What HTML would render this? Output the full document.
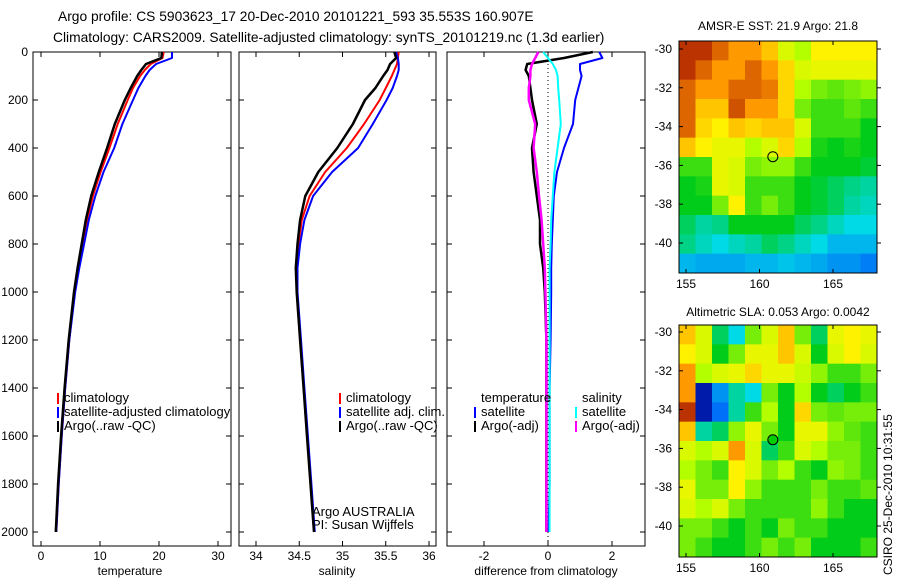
<!DOCTYPE html>
<html><head><meta charset="utf-8"><style>
body{margin:0;background:#fff;}
svg{display:block;font-family:"Liberation Sans",sans-serif;}
text{font-size:12px;fill:#000;}
text.lg{font-size:13px;}
</style></head><body>
<svg id="c" width="900" height="580" viewBox="0 0 900 580">
<text x="58" y="21" style="font-size:13.8px">Argo profile: CS 5903623_17 20-Dec-2010 20101221_593 35.553S 160.907E</text>
<text x="53" y="42" style="font-size:13.8px">Climatology: CARS2009. Satellite-adjusted climatology: synTS_20101219.nc (1.3d earlier)</text>
<text x="778" y="30" text-anchor="middle">AMSR-E SST: 21.9 Argo: 21.8</text>
<text x="778" y="316" text-anchor="middle">Altimetric SLA: 0.053 Argo: 0.0042</text>
<text transform="translate(892,575) rotate(-90)">CSIRO 25-Dec-2010 10:31:55</text>
</svg>
<script>
const depths=[0,25,50,75,100,150,200,300,400,500,600,700,800,900,1000,1200,1400,1600,1800,2000];
const argoT=[20.5,20.4,17.8,17.0,16.3,15.2,14.2,12.5,11.2,9.8,8.5,7.6,6.9,6.2,5.6,4.7,4.0,3.4,2.9,2.5];
const climT=[20.8,20.6,18.6,17.6,16.8,15.6,14.7,13.0,11.6,10.1,8.8,7.8,7.0,6.3,5.7,4.8,4.1,3.5,3.0,2.6];
const satT=[22.2,22.2,19.5,18.4,17.7,16.5,15.6,13.8,12.4,10.6,9.2,8.1,7.3,6.5,5.8,4.8,4.1,3.5,3.0,2.6];
const argoS=[35.6,35.62,35.55,35.52,35.47,35.38,35.26,35.12,34.94,34.72,34.57,34.51,34.48,34.46,34.47,34.51,34.55,34.59,34.63,34.67];
const climS=[35.65,35.64,35.63,35.6,35.57,35.5,35.43,35.25,35.05,34.8,34.62,34.53,34.49,34.47,34.47,34.51,34.55,34.59,34.63,34.67];
const satS=[35.62,35.64,35.65,35.65,35.63,35.58,35.51,35.35,35.18,34.88,34.66,34.56,34.51,34.48,34.48,34.52,34.56,34.6,34.64,34.68];
const dTsat=[1.6,1.7,1.0,1.0,1.05,0.95,0.85,0.78,0.5,0.28,0.18,0.15,0.12,0.1,0.1,0.08,0.05,0.05,0.05,0.02];
const dTargo=[1.4,0.5,-0.65,-0.7,-0.6,-0.55,-0.5,-0.35,-0.5,-0.45,-0.35,-0.25,-0.25,-0.15,-0.1,-0.05,-0.05,-0.05,-0.05,-0.05];
const dSargo=[-0.3,-0.4,-0.5,-0.55,-0.55,-0.6,-0.6,-0.4,-0.45,-0.35,-0.28,-0.2,-0.15,-0.1,-0.08,-0.05,-0.05,-0.05,-0.05,-0.05];
const dSsat=[-0.15,0.0,0.15,0.25,0.3,0.32,0.35,0.4,0.3,0.2,0.15,0.1,0.08,0.05,0.05,0.05,0.05,0.05,0.05,0.05];
const depthTicks=[0,200,400,600,800,1000,1200,1400,1600,1800,2000];
const tTicks=[0,10,20,30];
const sTicks=[34,34.5,35,35.5,36];
const sTickLabels=["34","34.5","35","35.5","36"];
const dTicks=[-2,0,2];
const lonTicks=[155,160,165];
const latTicks=[-30,-32,-34,-36,-38,-40];
const sstGrid=[
[.95,.95,.9,.85,.85,.8,.7,.65,.75,.75,.75,.75],
[.95,.9,.85,.85,.9,.85,.78,.7,.72,.72,.72,.72],
[.9,.85,.85,.9,.9,.88,.78,.65,.6,.58,.6,.62],
[.9,.8,.8,.92,.85,.85,.78,.6,.55,.55,.58,.55],
[.9,.78,.75,.8,.78,.8,.8,.7,.55,.55,.55,.5],
[.8,.75,.72,.72,.65,.7,.78,.65,.52,.5,.52,.5],
[.55,.55,.72,.7,.6,.62,.62,.55,.5,.5,.5,.48],
[.5,.52,.72,.7,.55,.55,.55,.5,.48,.45,.42,.4],
[.5,.5,.6,.75,.55,.6,.55,.5,.48,.45,.4,.38],
[.45,.4,.42,.5,.5,.5,.5,.45,.42,.38,.35,.35],
[.42,.38,.35,.38,.4,.45,.42,.38,.35,.3,.3,.3],
[.3,.28,.28,.28,.3,.3,.32,.3,.28,.25,.25,.22]];
const slaGrid=[
[.8,.7,.45,.35,.6,.7,.8,.6,.45,.72,.75,.72],
[.75,.7,.5,.6,.72,.72,.8,.7,.5,.7,.75,.7],
[.85,.65,.7,.72,.78,.72,.72,.68,.62,.55,.55,.6],
[.85,.05,.25,.4,.35,.6,.5,.65,.5,.45,.5,.55],
[.95,.05,.2,.4,.55,.65,.5,.78,.6,.58,.6,.6],
[.8,.4,.45,.62,.72,.6,.5,.72,.72,.62,.58,.55],
[.7,.65,.7,.85,.7,.45,.55,.7,.65,.6,.6,.55],
[.65,.6,.55,.75,.7,.6,.65,.55,.5,.62,.6,.55],
[.72,.6,.6,.75,.62,.55,.55,.55,.6,.55,.55,.58],
[.7,.65,.7,.6,.55,.55,.55,.55,.62,.55,.5,.5],
[.6,.6,.55,.5,.55,.5,.6,.55,.55,.5,.5,.5],
[.6,.55,.5,.5,.55,.6,.55,.6,.5,.5,.5,.55]];
const argoLon=160.907, argoLat=-35.553;

const NS="http://www.w3.org/2000/svg";
const svg=document.getElementById('c');
function mk(tag,attrs,parent){const e=document.createElementNS(NS,tag);for(const k in attrs)e.setAttribute(k,attrs[k]);(parent||svg).appendChild(e);return e;}
const yD=d=>52+0.24*d;
const xT=v=>41+5.9*v;
const xS=v=>256+86.5*(v-34);
const xD=v=>548+32*v;

function panel(x0,x1,name){
  const g=mk('g',{});
  
  
  mk('rect',{x:x0,y:52,width:x1-x0,height:494,fill:'#fff',stroke:'#000','stroke-width':1},g);
  depthTicks.forEach(d=>{const y=yD(d);mk('line',{x1:x0,x2:x0+5,y1:y,y2:y,stroke:'#000'},g);mk('line',{x1:x1-5,x2:x1,y1:y,y2:y,stroke:'#000'},g);});
  return g;
}
function xticks(g,ticks,labels,fx){ticks.forEach((v,i)=>{const x=fx(v);mk('line',{x1:x,x2:x,y1:52,y2:57,stroke:'#000'},g);mk('line',{x1:x,x2:x,y1:541,y2:546,stroke:'#000'},g);const t=mk('text',{x:x,y:560,'text-anchor':'middle'},g);t.textContent=labels[i];});}
function line(g,vals,fx,color,w,name){const pts=vals.map((v,i)=>fx(v).toFixed(1)+','+yD(depths[i]).toFixed(1)).join(' ');const p=mk('polyline',{points:pts,fill:'none',stroke:color,'stroke-width':w,'stroke-linejoin':'round'},g);}
function legend(g,x,y,color,label,name){mk('line',{x1:x,x2:x,y1:y-9,y2:y+2,stroke:color,'stroke-width':2},g);const t=mk('text',{x:x+6,y:y,'class':'lg'},g);t.textContent=label;}

const p1=panel(33,231,'temperature-panel');
xticks(p1,tTicks,tTicks.map(String),xT);
depthTicks.forEach(d=>{const t=mk('text',{x:28,y:yD(d)+4,'text-anchor':'end'},p1);t.textContent=String(d);});
line(p1,climT,xT,'#f00',2,'temp-climatology-line');
line(p1,satT,xT,'#00f',2,'temp-satellite-line');
line(p1,argoT,xT,'#000',2.5,'temp-argo-line');
legend(p1,58,402,'#f00','climatology','legend-climatology');
legend(p1,58,416,'#00f','satellite-adjusted climatology','legend-satellite');
legend(p1,58,430,'#000','Argo(..raw -QC)','legend-argo');
let t=mk('text',{x:130,y:575,'text-anchor':'middle'},p1);t.textContent='temperature';

const p2=panel(239,436,'salinity-panel');
xticks(p2,sTicks,sTickLabels,xS);
line(p2,climS,xS,'#f00',2,'sal-climatology-line');
line(p2,satS,xS,'#00f',2,'sal-satellite-line');
line(p2,argoS,xS,'#000',2.5,'sal-argo-line');
legend(p2,340,402,'#f00','climatology','legend-sal-climatology');
legend(p2,340,416,'#00f','satellite adj. clim.','legend-sal-satellite');
legend(p2,340,430,'#000','Argo(..raw -QC)','legend-sal-argo');
t=mk('text',{x:312,y:516,'class':'lg'},p2);t.textContent='Argo AUSTRALIA';
t=mk('text',{x:312,y:529,'class':'lg'},p2);t.textContent='PI: Susan Wijffels';
t=mk('text',{x:337,y:575,'text-anchor':'middle'},p2);t.textContent='salinity';

const p3=panel(447,645,'difference-panel');
xticks(p3,dTicks,dTicks.map(String),xD);
mk('line',{x1:xD(0),x2:xD(0),y1:52,y2:546,stroke:'#000','stroke-dasharray':'1,3'},p3);
line(p3,dTsat,xD,'#00f',2,'diff-temp-satellite-line');
line(p3,dTargo,xD,'#000',2.5,'diff-temp-argo-line');
line(p3,dSsat,xD,'#0ff',2,'diff-sal-satellite-line');
line(p3,dSargo,xD,'#f0f',2.5,'diff-sal-argo-line');
t=mk('text',{x:481,y:402,'class':'lg'},p3);t.textContent='temperature';
legend(p3,475,416,'#00f','satellite','legend-diff-temp-satellite');
legend(p3,475,430,'#000','Argo(-adj)','legend-diff-temp-argo');
t=mk('text',{x:582,y:402,'class':'lg'},p3);t.textContent='salinity';
legend(p3,576,416,'#0ff','satellite','legend-diff-sal-satellite');
legend(p3,576,430,'#f0f','Argo(-adj)','legend-diff-sal-argo');
t=mk('text',{x:546,y:575,'text-anchor':'middle'},p3);t.textContent='difference from climatology';

function jet(v){v=Math.max(0,Math.min(1,v));
  const stops=[[0,0,0,0.5],[0.15,0,0.3,1],[0.35,0,0.85,0.9],[0.5,0,0.8,0.1],[0.65,0.7,1,0],[0.75,1,0.95,0],[0.85,1,0.6,0],[1,0.6,0,0]];
  for(let i=1;i<stops.length;i++){if(v<=stops[i][0]){const a=stops[i-1],b=stops[i],f=(v-a[0])/(b[0]-a[0]);return 'rgb('+[1,2,3].map(k=>Math.round(255*(a[k]+f*(b[k]-a[k])))).join(',')+')';}}
  return 'rgb(153,0,0)';}
function map(grid,y0,y1,lat30,name,fillMarker){
  const g=mk('g',{});
  
  
  const x0=679,x1=877;
  const xL=lon=>686+14.7*(lon-155);
  const yL=lat=>lat30+19.4*(-30-lat);
  const rows=grid.length,cols=grid[0].length,cw=(x1-x0)/cols,ch=(y1-y0)/rows;
  grid.forEach((row,r)=>row.forEach((v,c)=>{const cell=mk('rect',{x:x0+c*cw,y:y0+r*ch,width:cw+0.5,height:ch+0.5,fill:jet(v)},g);
    
    }));
  mk('rect',{x:x0,y:y0,width:x1-x0,height:y1-y0,fill:'none',stroke:'#000'},g);
  lonTicks.forEach(l=>{const x=xL(l);mk('line',{x1:x,x2:x,y1:y0,y2:y0+4,stroke:'#000'},g);mk('line',{x1:x,x2:x,y1:y1-4,y2:y1,stroke:'#000'},g);const tt=mk('text',{x:x,y:y1+15,'text-anchor':'middle'},g);tt.textContent=String(l);});
  latTicks.forEach(l=>{const y=yL(l);mk('line',{x1:x0,x2:x0+4,y1:y,y2:y,stroke:'#000'},g);mk('line',{x1:x1,x2:x1+4,y1:y,y2:y,stroke:'#000'},g);const tt=mk('text',{x:672,y:y+4,'text-anchor':'end'},g);tt.textContent=String(l);});
  const m=mk('circle',{cx:xL(argoLon),cy:yL(argoLat),r:5,fill:fillMarker,stroke:'#000'},g);
  
  
}
map(sstGrid,41,273,49,'sst-map','none');
map(slaGrid,325,557,332,'sla-map','#0c0');
</script>
</body></html>
